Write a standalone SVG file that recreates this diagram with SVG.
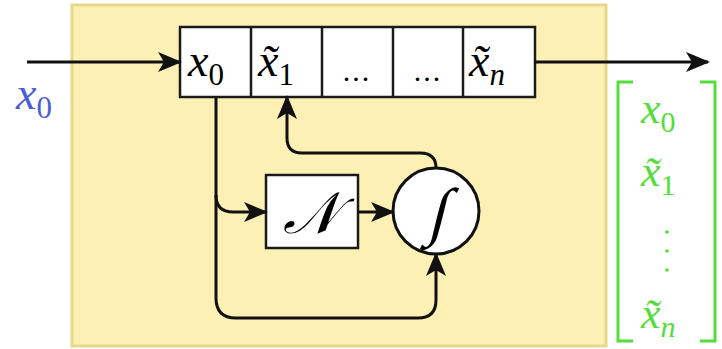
<svg xmlns="http://www.w3.org/2000/svg" width="722" height="349" viewBox="0 0 722 349">
<style>
.box{fill:#fff;stroke:#1a1a1a;stroke-width:2.5}
.conn{fill:none;stroke:#111;stroke-width:3}
.g{fill:#55dd3c}
</style>
<defs>
<marker id="ah" markerUnits="userSpaceOnUse" markerWidth="24" markerHeight="24" viewBox="0 0 24 24" refX="22" refY="12" orient="auto">
<path d="M0,2 L24,12 L0,22 L6,12 Z" fill="#111"/>
</marker>
</defs>
<rect x="72" y="5" width="534" height="341" fill="#fdf0b5" stroke="#e6d98c" stroke-width="3"/>
<g id="register">
<rect class="box" x="180" y="27" width="355" height="70"/>
<line x1="251" y1="27" x2="251" y2="97" stroke="#1a1a1a" stroke-width="2.5"/>
<line x1="322" y1="27" x2="322" y2="97" stroke="#1a1a1a" stroke-width="2.5"/>
<line x1="393" y1="27" x2="393" y2="97" stroke="#1a1a1a" stroke-width="2.5"/>
<line x1="463" y1="27" x2="463" y2="97" stroke="#1a1a1a" stroke-width="2.5"/>
<text font-family="Liberation Serif, serif" font-style="italic" x="188" y="76" font-size="46">x<tspan font-style="normal" font-size="31" dy="9">0</tspan></text>
<text font-family="Liberation Serif, serif" font-style="italic" x="258" y="76" font-size="46">x̃<tspan font-style="normal" font-size="31" dy="9">1</tspan></text>
<text font-family="Liberation Serif, serif" x="357" y="81" font-size="30" letter-spacing="2" text-anchor="middle">...</text>
<text font-family="Liberation Serif, serif" x="428" y="81" font-size="30" letter-spacing="2" text-anchor="middle">...</text>
<text font-family="Liberation Serif, serif" font-style="italic" x="469" y="76" font-size="46">x̃<tspan font-size="31" dy="9">n</tspan></text>
</g>
<g id="normal">
<rect class="box" x="266" y="175" width="92" height="73"/>
<text font-family="DejaVu Serif, serif" font-style="italic" x="311" y="233" font-size="58" text-anchor="middle">𝒩</text>
</g>
<g id="integrator">
<circle cx="436" cy="211" r="43" fill="#fff" stroke="#111" stroke-width="3"/>
<text font-family="Liberation Serif, serif" x="0" y="0" font-size="64" text-anchor="middle" transform="translate(436,233) skewX(-14)">∫</text>
</g>
<g id="input-label">
<text font-family="Liberation Serif, serif" font-style="italic" x="16" y="109" font-size="46" fill="#4a5fd6">x<tspan font-style="normal" font-size="31" dy="9">0</tspan></text>
</g>
<g id="output-vector">
<path d="M633,82 H618 V341 H633" fill="none" stroke="#55dd3c" stroke-width="3"/>
<path d="M700,82 H715 V341 H700" fill="none" stroke="#55dd3c" stroke-width="3"/>
<text class="g" font-family="Liberation Serif, serif" font-style="italic" x="641" y="123" font-size="44">x<tspan font-style="normal" font-size="30" dy="9">0</tspan></text>
<text class="g" font-family="Liberation Serif, serif" font-style="italic" x="641" y="186" font-size="44">x̃<tspan font-style="normal" font-size="30" dy="9">1</tspan></text>
<circle cx="667" cy="232" r="1.8" fill="#55dd3c"/><circle cx="667" cy="251" r="1.8" fill="#55dd3c"/><circle cx="667" cy="270" r="1.8" fill="#55dd3c"/>
<text class="g" font-family="Liberation Serif, serif" font-style="italic" x="641" y="328" font-size="44">x̃<tspan font-size="30" dy="9">n</tspan></text>
</g>
<g id="connectors">
<path class="conn" d="M27,62 H180" marker-end="url(#ah)"/>
<path class="conn" d="M535,62 H708" marker-end="url(#ah)"/>
<path class="conn" d="M216,97 V298 Q216,318 236,318 H418 Q436,318 436,300 V254" marker-end="url(#ah)"/>
<path class="conn" d="M216,195 Q216,212 233,212 H266" marker-end="url(#ah)"/>
<path class="conn" d="M358,212 H393" marker-end="url(#ah)"/>
<path class="conn" d="M436,168 Q436,153 420,153 H302 Q287,153 287,138 V97" marker-end="url(#ah)"/>
</g>
</svg>
